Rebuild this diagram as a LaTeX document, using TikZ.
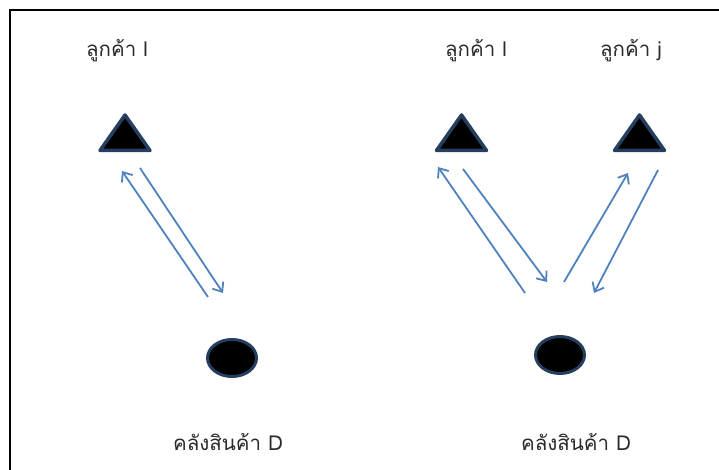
\documentclass[tikz,border=0pt]{standalone}
\usepackage{fontspec}
\newfontfamily\thaifont[Script=Thai]{Loma}
\usetikzlibrary{arrows.meta,shapes.geometric,calc}
\definecolor{arrowblue}{HTML}{4F81BD}
\definecolor{navy}{HTML}{243F60}
\definecolor{txt}{HTML}{2A2A2A}
\tikzset{
  lbl/.style={font=\thaifont\fontsize{20.5}{24}\selectfont, text=txt, anchor=base, inner sep=0pt},
  flow/.style={draw=arrowblue, line width=1.8pt, -{Straight Barb[length=8pt,width=13pt,line width=1.8pt]}},
  tri/.style={draw=navy, fill=black, line width=3.5pt, line join=round},
  depot/.style={ellipse, draw=navy, fill=black, line width=3pt, minimum width=49pt, minimum height=37pt, inner sep=0pt}
}
\begin{document}
\begin{tikzpicture}[x=1pt,y=1pt]
\useasboundingbox (0,0) rectangle (719,470);
% frame
\draw[line width=1.5pt] (10,-10) -- (10,460) -- (730,460);
% customers
\coordinate (c1) at (125,340);
\coordinate (c2) at (461.5,340);
\coordinate (c3) at (639.5,340);
\foreach \c in {c1,c2,c3}{
  \draw[tri] ($(\c)+(0,15)$) -- ($(\c)+(25,-20.5)$) -- ($(\c)+(-25,-20.5)$) -- cycle;
}
% labels
\node[lbl] (l1) at (117,413) {ลูกค้า l};
\node[lbl] (l2) at (476,413) {ลูกค้า l};
\node[lbl] (l3) at (631,413) {ลูกค้า j};
% depots
\node[depot] (d1) at (232,112) {};
\node[depot] (d2) at (560,115) {};
\node[lbl] (dl1) at (228,19) {คลังสินค้า D};
\node[lbl] (dl2) at (576,19) {คลังสินค้า D};
% arrow end points
\coordinate (a1s) at (208,173); \coordinate (a1e) at (122,299);
\coordinate (a2s) at (140,302); \coordinate (a2e) at (223,177);
\coordinate (b1s) at (525,177); \coordinate (b1e) at (438,303);
\coordinate (b2s) at (463,301); \coordinate (b2e) at (547,188);
\coordinate (b3s) at (564,188); \coordinate (b3e) at (628,297);
\coordinate (b4s) at (658,300); \coordinate (b4e) at (594,177);
\draw[flow] (a1s) -- (a1e);
\draw[flow] (a2s) -- (a2e);
\draw[flow] (b1s) -- (b1e);
\draw[flow] (b2s) -- (b2e);
\draw[flow] (b3s) -- (b3e);
\draw[flow] (b4s) -- (b4e);
\end{tikzpicture}
\end{document}
